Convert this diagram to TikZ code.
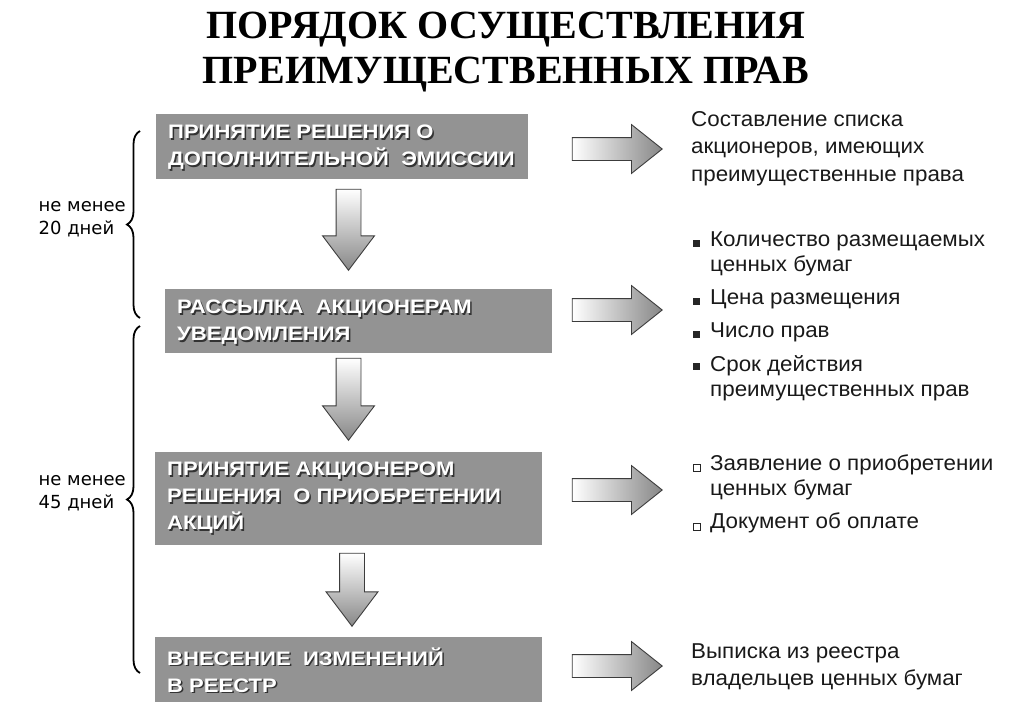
\documentclass[tikz,border=0pt]{standalone}
\usepackage{fontspec}
\setmainfont{Liberation Sans}
\newfontfamily\wsans[FakeStretch=1.13]{Liberation Sans}
\newfontfamily\wsansr[FakeStretch=1.04]{Liberation Sans}
\newfontfamily\titlefont{Liberation Serif}
\newfontfamily\dvfont{DejaVu Sans}
\usetikzlibrary{shapes.arrows,decorations.pathreplacing,calc}
\definecolor{boxgray}{RGB}{147,147,147}
\definecolor{arrgray}{RGB}{135,135,135}
\definecolor{edgegray}{RGB}{60,60,60}
\tikzset{
  boxst/.style={fill=boxgray, draw=none, inner sep=0},
  btxt/.style={font=\wsans\bfseries\fontsize{19.5}{27}\selectfont, text=white, align=left, anchor=west, inner sep=0},
  bshd/.style={btxt, text=black!80},
  rtxt/.style={font=\wsansr\fontsize{21.5}{27.5}\selectfont, align=left, anchor=west, inner sep=0, text=black!90},
  itxt/.style={font=\wsansr\fontsize{21.5}{25}\selectfont, align=left, anchor=north west, inner sep=0, text=black!90},
  rarrow/.style={single arrow, draw=edgegray, line width=0.9pt, left color=white, right color=arrgray,
     inner sep=11pt, minimum width=48pt, single arrow head extend=13pt, single arrow tip angle=77, minimum height=90pt},
  darrow/.style={single arrow, shape border rotate=270, draw=edgegray, line width=0.9pt, top color=white, bottom color=arrgray,
     inner sep=12pt, minimum width=51pt, single arrow head extend=13.5pt, single arrow tip angle=74},
  sqb/.style={fill=black!85, draw=none, minimum size=7pt, inner sep=0},
  sqh/.style={draw=black!85, fill=white, line width=0.9pt, minimum size=7.5pt, inner sep=0},
  ttl/.style={font=\titlefont\bfseries\fontsize{40}{45}\selectfont, align=center, inner sep=0},
  brc/.style={decorate, decoration={brace, amplitude=13pt}, line width=1.8pt},
  ltxt/.style={font=\dvfont\fontsize{18}{23}\selectfont, align=left, anchor=east, inner sep=0}
}
\begin{document}
\begin{tikzpicture}[x=1pt,y=-1pt]
\useasboundingbox (0,0) rectangle (1024,717);
% title
\node[ttl] (title) at (506,52) {ПОРЯДОК ОСУЩЕСТВЛЕНИЯ\\ПРЕИМУЩЕСТВЕННЫХ ПРАВ};
% boxes
\node[boxst, minimum width=372pt, minimum height=65pt] (b1) at (342,146.5) {};
\node[boxst, minimum width=387pt, minimum height=64pt] (b2) at (358.5,321) {};
\node[boxst, minimum width=387pt, minimum height=93pt] (b3) at (348.5,498.5) {};
\node[boxst, minimum width=387pt, minimum height=65pt] (b4) at (348.5,669.5) {};
\node[bshd] (t1s) at (169.5,149) {ПРИНЯТИЕ РЕШЕНИЯ О\\ДОПОЛНИТЕЛЬНОЙ\ \ ЭМИССИИ};
\node[btxt] (t1) at (168,147.5) {ПРИНЯТИЕ РЕШЕНИЯ О\\ДОПОЛНИТЕЛЬНОЙ\ \ ЭМИССИИ};
\node[bshd] (t2s) at (178.5,324) {РАССЫЛКА\ \ АКЦИОНЕРАМ\\УВЕДОМЛЕНИЯ};
\node[btxt] (t2) at (177,322.5) {РАССЫЛКА\ \ АКЦИОНЕРАМ\\УВЕДОМЛЕНИЯ};
\node[bshd] (t3s) at (168.5,499.5) {ПРИНЯТИЕ АКЦИОНЕРОМ\\РЕШЕНИЯ\ \ О ПРИОБРЕТЕНИИ\\АКЦИЙ};
\node[btxt] (t3) at (167,498) {ПРИНЯТИЕ АКЦИОНЕРОМ\\РЕШЕНИЯ\ \ О ПРИОБРЕТЕНИИ\\АКЦИЙ};
\node[bshd] (t4s) at (168.5,671.5) {ВНЕСЕНИЕ\ \ ИЗМЕНЕНИЙ\\В РЕЕСТР};
\node[btxt] (t4) at (167,670) {ВНЕСЕНИЕ\ \ ИЗМЕНЕНИЙ\\В РЕЕСТР};
% down arrows
\node[darrow, minimum height=81pt] (d1) at (348.5,221.5) {};
\node[darrow, minimum height=82pt] (d2) at (348.5,391) {};
\node[darrow, minimum height=73pt] (d3) at (352,581.5) {};
% right arrows
\node[rarrow] (r1) at (610,149) {};
\node[rarrow] (r2) at (610,310) {};
\node[rarrow] (r3) at (610,490) {};
\node[rarrow] (r4) at (610,666) {};
% right texts
\node[rtxt] (x1) at (691,148.5) {Составление списка\\акционеров, имеющих\\преимущественные права};
\node[sqb] (q1) at (696,243) {};
\node[itxt] (i1) at (710,232) {Количество размещаемых\\ценных бумаг};
\node[sqb] (q2) at (696,301) {};
\node[itxt] (i2) at (710,290) {Цена размещения};
\node[sqb] (q3) at (696,334) {};
\node[itxt] (i3) at (710,323) {Число прав};
\node[sqb] (q4) at (696,366) {};
\node[itxt] (i4) at (710,355) {Срок действия\\преимущественных прав};
\node[sqh] (h1) at (697,468) {};
\node[itxt] (j1) at (710,455) {Заявление о приобретении\\ценных бумаг};
\node[sqh] (h2) at (697,527) {};
\node[itxt] (j2) at (710,513) {Документ об оплате};
\node[rtxt] (x4) at (691,667) {Выписка из реестра\\владельцев ценных бумаг};
% braces
\coordinate (br1a) at (140,318);
\coordinate (br1b) at (140,131);
\coordinate (br2a) at (140,673);
\coordinate (br2b) at (140,326);
\draw[brc] (br1a) -- (br1b);
\draw[brc] (br2a) -- (br2b);
\node[ltxt] (l1) at (126,219) {не менее\\20 дней};
\node[ltxt] (l2) at (126,493) {не менее\\45 дней};
\end{tikzpicture}
\end{document}
